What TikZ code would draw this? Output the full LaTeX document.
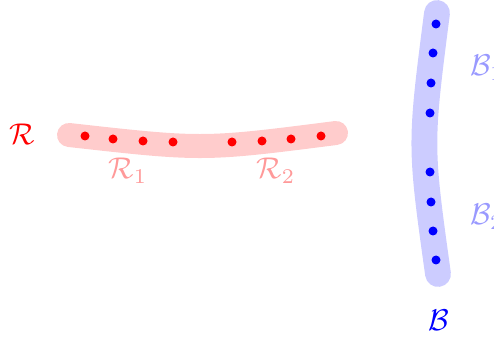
\documentclass[tikz,border=0pt]{standalone}
\usepackage{amsmath}
\begin{document}
\begin{tikzpicture}[x=0.3333pt,y=-0.3333pt,
  band/.style={line width=8pt,line cap=round},
  rdot/.style={circle,fill=red,inner sep=0pt,minimum size=3pt},
  bdot/.style={circle,fill=blue,inner sep=0pt,minimum size=3pt},
  lbl/.style={inner sep=0pt}]
\useasboundingbox (0,0) rectangle (494,343);
\draw[band,red!20] (69,135) .. controls (203,150) .. (336,133);
\draw[band,blue!20,line width=8.6pt] (437,13) .. controls (420,145) .. (438,274);
\foreach \x/\y [count=\i] in {85/136,113/139,143/141,173/142,232/142,262/141,291/139,321/136}
  \node[rdot] (r\i) at (\x,\y) {};
\foreach \x/\y [count=\i] in {436/24,433/53,431/83,430/113,430/172,431/202,433/231,436/260}
  \node[bdot] (b\i) at (\x,\y) {};
\node[lbl,text=red] (R) at (22,134) {$\mathcal{R}$};
\node[lbl,text=red!40] (R1) at (128,171) {$\mathcal{R}_1$};
\node[lbl,text=red!40] (R2) at (276,171) {$\mathcal{R}_2$};
\node[lbl,text=blue!40] (B1) at (487,68) {$\mathcal{B}_1$};
\node[lbl,text=blue!40] (B2) at (487,217) {$\mathcal{B}_2$};
\node[lbl,text=blue] (B) at (439,320) {$\mathcal{B}$};
\end{tikzpicture}
\end{document}
